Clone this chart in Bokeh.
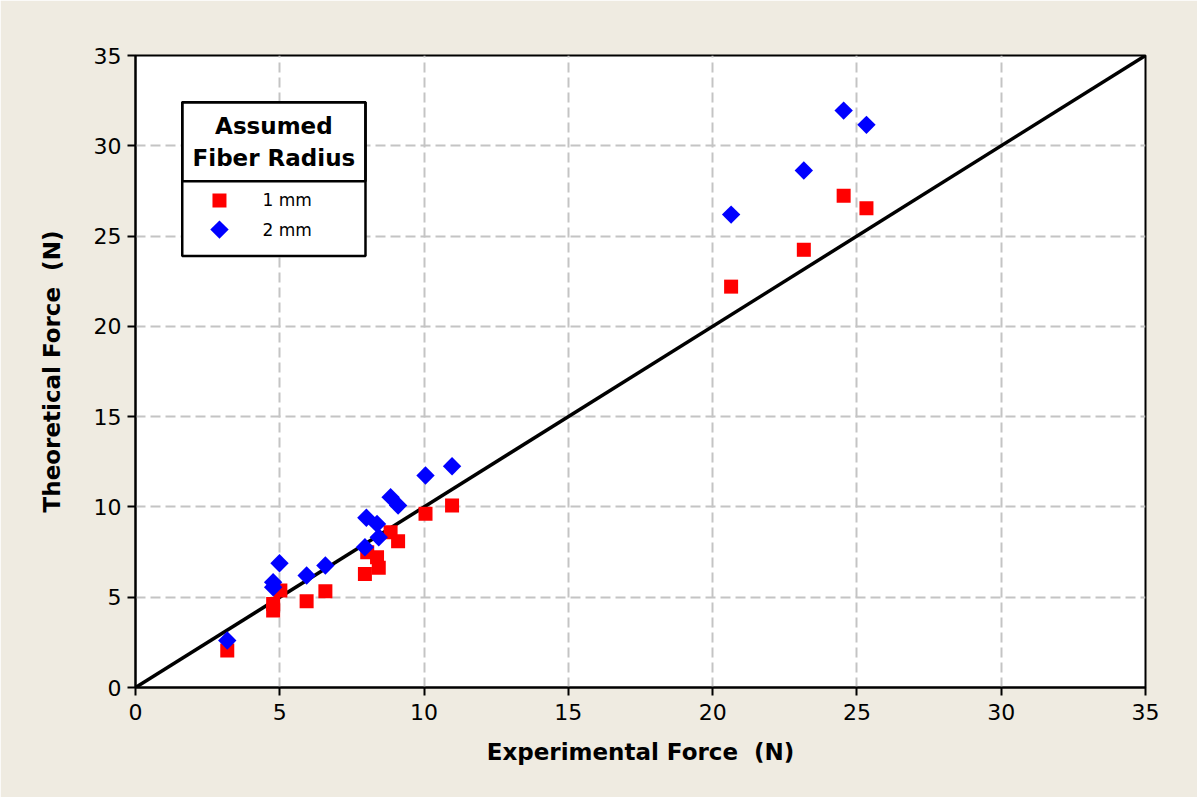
import numpy as np
from bokeh.plotting import figure
from bokeh.models import FixedTicker, Range1d, BoxAnnotation, Label
from bokeh.embed import file_html
from bokeh.resources import INLINE

# ---- data ----
exp_force = [3.18, 4.77, 4.77, 5.02, 5.93, 6.58, 7.95, 8.03, 8.37, 8.43, 8.84, 9.10, 10.05, 10.97,
             20.64, 23.16, 24.54, 25.33]
theory_1mm = [2.05, 4.26, 4.63, 5.37, 4.78, 5.33, 6.29, 7.49, 7.22, 6.63, 8.60, 8.10, 9.62, 10.08,
              22.20, 24.24, 27.23, 26.54]
exp_force_2 = [3.18, 4.77, 4.77, 4.99, 5.93, 6.58, 7.95, 8.00, 8.37, 8.43, 8.84, 9.10, 10.05, 10.97,
               20.64, 23.16, 24.54, 25.33]
theory_2mm = [2.60, 5.55, 5.83, 6.88, 6.20, 6.76, 7.77, 9.40, 9.06, 8.32, 10.54, 10.08, 11.74, 12.25,
              26.19, 28.63, 31.95, 31.16]
identity = [0, 35]
ticks = [0, 5, 10, 15, 20, 25, 30, 35]
series_labels = ["1 mm", "2 mm"]
legend_title = ["Assumed", "Fiber Radius"]

BG = "#EFEBE1"
FONT = "DejaVu Sans"
RED = "#FF0000"
BLUE = "#0000FF"

p = figure(width=1197, height=797, output_backend="svg", toolbar_location=None,
           x_range=Range1d(0, 35), y_range=Range1d(0, 35),
           min_border_left=135, min_border_top=55, min_border_right=52, min_border_bottom=110)
p.background_fill_color = "white"
p.border_fill_color = BG
p.outline_line_color = "black"
p.outline_line_width = 2

for ax in (p.xaxis[0], p.yaxis[0]):
    ax.ticker = FixedTicker(ticks=ticks)
    ax.minor_tick_line_color = None
    ax.major_tick_in = 0
    ax.major_tick_out = 8
    ax.major_tick_line_width = 2
    ax.axis_line_width = 2
    ax.major_label_text_font = FONT
    ax.major_label_text_font_size = "22px"
    ax.major_label_text_color = "black"
    ax.axis_label_text_font = FONT
    ax.axis_label_text_font_style = "bold"
    ax.axis_label_text_font_size = "23px"
    ax.axis_label_text_color = "black"

p.xaxis.axis_label = "Experimental Force\u00a0 (N)"
p.yaxis.axis_label = "Theoretical Force\u00a0 (N)"
p.xaxis.major_label_standoff = 8
p.yaxis.major_label_standoff = 6
p.xaxis.axis_label_standoff = 16
p.yaxis.axis_label_standoff = 26

for g in (p.xgrid[0], p.ygrid[0]):
    g.ticker = FixedTicker(ticks=ticks)
    g.grid_line_color = "#C4C4C4"
    g.grid_line_width = 2
    g.grid_line_dash = "10 5"

p.line(identity, identity, line_color="black", line_width=3.5)
p.scatter(exp_force, theory_1mm, marker="square", size=14, fill_color=RED,
          line_color=RED, line_width=0)
p.scatter(exp_force_2, theory_2mm, marker="square", angle=np.pi / 4, size=13,
          fill_color=BLUE, line_color=BLUE, line_width=0)

# ---- legend (layout positions in axis units) ----
box_l, box_r, box_t, box_b, box_div = 1.62, 7.97, 32.41, 23.89, 28.04
p.add_layout(BoxAnnotation(left=box_l, right=box_r, top=box_t, bottom=box_b,
                           fill_color="white", fill_alpha=1, line_color="black", line_alpha=1,
                           line_width=2.5, level="annotation"))
p.add_layout(BoxAnnotation(left=box_l, right=box_r, top=box_t, bottom=box_div,
                           fill_alpha=0, line_color="black", line_alpha=1, line_width=2.5,
                           level="annotation"))
cx = (box_l + box_r) / 2
for txt, yy in zip(legend_title, [31.07, 29.30]):
    p.add_layout(Label(x=cx, y=yy, text=txt, text_align="center", text_baseline="middle",
                       text_font=FONT, text_font_style="bold", text_font_size="23px",
                       text_color="black", level="overlay"))

sw_x, lab_x, row_y = 2.91, 4.40, [26.97, 25.36]
p.scatter([sw_x], [row_y[0]], marker="square", size=14, fill_color=RED,
          line_color=RED, line_width=0, level="overlay")
p.scatter([sw_x], [row_y[1]], marker="square", angle=np.pi / 4, size=13,
          fill_color=BLUE, line_color=BLUE, line_width=0, level="overlay")
for txt, yy in zip(series_labels, row_y):
    p.add_layout(Label(x=lab_x, y=yy, text=txt, text_align="left", text_baseline="middle",
                       text_font=FONT, text_font_size="17px", text_color="black",
                       level="overlay"))

open("out.html", "w").write(file_html(p, INLINE))
